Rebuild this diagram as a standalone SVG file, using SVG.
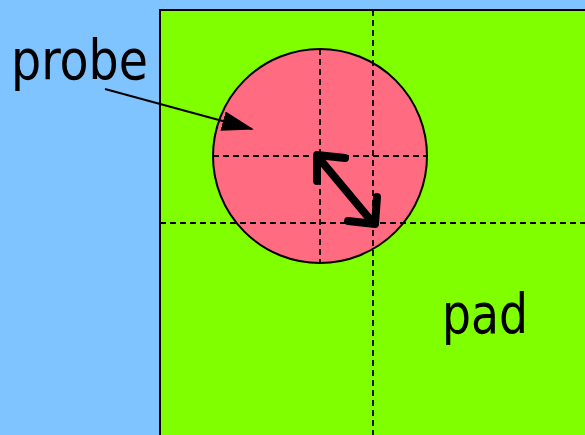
<svg xmlns="http://www.w3.org/2000/svg" width="585" height="435" viewBox="0 0 585 435">
<defs>
<style>
.dash{stroke:#000;stroke-width:1.8;stroke-dasharray:6 4;fill:none}
.lbl{font-family:"DejaVu Sans Condensed","DejaVu Sans",sans-serif;font-size:56px;fill:#000}
</style>
<marker id="tri" markerUnits="userSpaceOnUse" markerWidth="32" markerHeight="20" refX="30" refY="10" orient="auto" viewBox="0 0 32 20">
<path d="M0,0 L32,10 L0,20 Z" fill="#000"/>
</marker>
</defs>
<rect x="0" y="0" width="585" height="435" fill="#80C4FF"/>
<g id="pad">
<rect x="160" y="10" width="430" height="430" fill="#80FF00" stroke="#000" stroke-width="2"/>
<text class="lbl" x="442" y="333" textLength="86" lengthAdjust="spacingAndGlyphs">pad</text>
</g>
<g id="probe">
<circle cx="320" cy="156" r="107" fill="#FF6B80" stroke="#000" stroke-width="2"/>
<text class="lbl" x="11" y="79" textLength="137" lengthAdjust="spacingAndGlyphs">probe</text>
</g>
<g id="connectors">
<line class="dash" x1="373" y1="10" x2="373" y2="435"/>
<line class="dash" x1="160" y1="223" x2="585" y2="223"/>
<line class="dash" x1="320" y1="49" x2="320" y2="263"/>
<line class="dash" x1="213" y1="156" x2="427" y2="156"/>
<line x1="105" y1="89" x2="252" y2="129" stroke="#000" stroke-width="2" marker-end="url(#tri)"/>
<g stroke="#000" stroke-width="8" stroke-linecap="round" stroke-linejoin="round" fill="none">
<line x1="318" y1="157" x2="373" y2="223"/>
<polyline points="345,158 317,155 317,181"/>
<polyline points="377,197 375,224 348,221"/>
</g>
</g>
</svg>
